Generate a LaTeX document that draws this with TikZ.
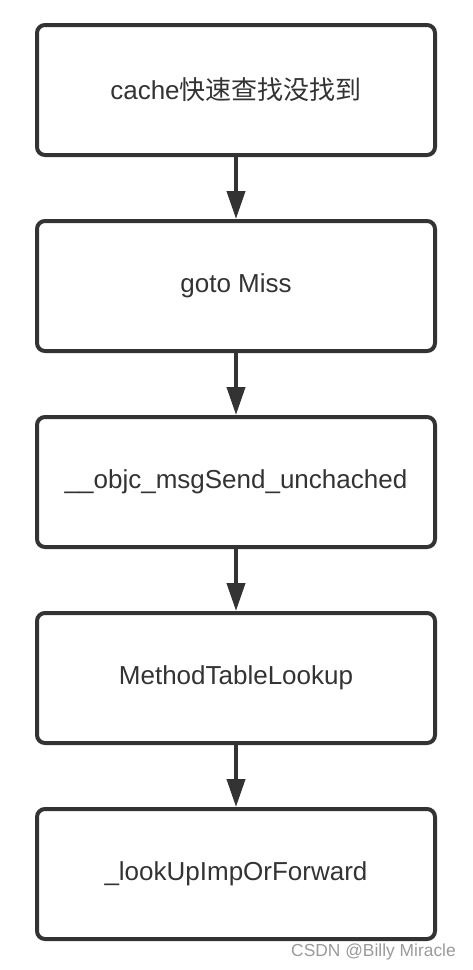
\documentclass[tikz,border=0pt]{standalone}
\usepackage{fontspec}
\setmainfont{Liberation Sans}
\newfontfamily\cjk{Noto Sans CJK SC}
\usepackage{tikz}
\usetikzlibrary{arrows.meta,positioning}
\definecolor{ink}{HTML}{333333}
\definecolor{mark}{HTML}{9A9A9A}

\begin{document}
\begin{tikzpicture}[
  x=1pt, y=-1pt,
  node distance=62pt,
  box/.style={draw=ink, line width=4pt, rounded corners=8pt, align=center, text=ink,
    minimum width=398pt, minimum height=130pt, font=\fontsize{26}{31}\selectfont},
  arrow/.style={-{Triangle[length=28pt, width=18pt]}, draw=ink, fill=ink, line width=4pt}
]
\useasboundingbox (0,0) rectangle (472,970);

\node[box] (cache) at (236,90) {cache{\cjk 快速查找没找到}};
\node[box, below=of cache] (miss) {goto Miss};
\node[box, below=of miss] (uncached) {\_\_objc\_msgSend\_unchached};
\node[box, below=of uncached] (lookup) {MethodTableLookup};
\node[box, below=of lookup] (forward) {\_lookUpImpOrForward};

\draw[arrow] (cache) -- (miss);
\draw[arrow] (miss) -- (uncached);
\draw[arrow] (uncached) -- (lookup);
\draw[arrow] (lookup) -- (forward);

% watermark
\node[anchor=east, text=mark, font=\fontsize{17.4}{20}\selectfont, inner sep=0pt] (credit) at (456,952) {CSDN @Billy Miracle};
\end{tikzpicture}
\end{document}
